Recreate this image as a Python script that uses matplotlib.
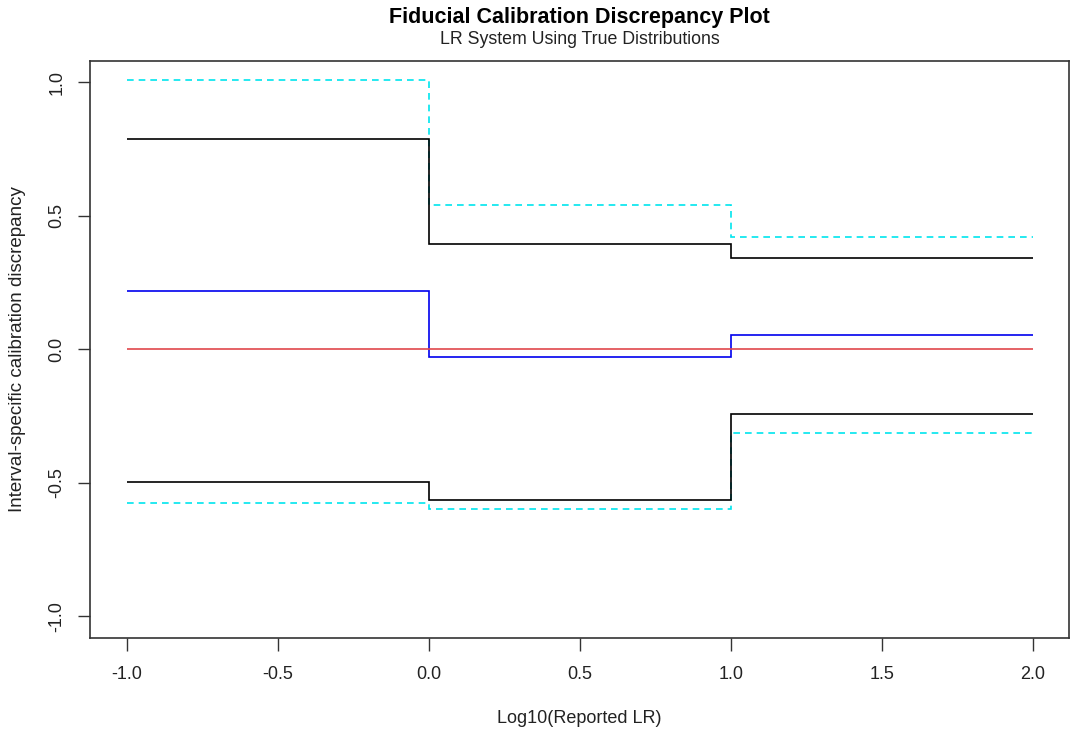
import matplotlib
matplotlib.use("Agg")
import matplotlib.pyplot as plt
import numpy as np

plt.rcParams['font.family'] = ['Liberation Sans', 'DejaVu Sans']

# Interval edges (log10 reported LR)
edges = [-1.0, 0.0, 1.0, 2.0]
# Interval-specific values
point_estimate = [0.216, -0.030, 0.055]
upper_black = [0.788, 0.395, 0.343]
lower_black = [-0.497, -0.565, -0.244]
upper_cyan = [1.006, 0.541, 0.419]
lower_cyan = [-0.576, -0.600, -0.312]
reference = 0.0

title = "Fiducial Calibration Discrepancy Plot"
subtitle = "LR System Using True Distributions"
xlabel = "Log10(Reported LR)"
ylabel = "Interval-specific calibration discrepancy"
xticks = [-1.0, -0.5, 0.0, 0.5, 1.0, 1.5, 2.0]
yticks = [-1.0, -0.5, 0.0, 0.5, 1.0]

fig = plt.figure(figsize=(10.71, 7.31), dpi=100)
ax = fig.add_axes([0.0845, 0.1276, 0.9135, 0.7894])

lw = 1.2
ax.hlines(reference, edges[0], edges[-1], colors='#E0474C', lw=lw)
ax.stairs(upper_cyan, edges, baseline=None, color='#00E5EE', lw=lw, linestyle=(0, (4, 3)))
ax.stairs(lower_cyan, edges, baseline=None, color='#00E5EE', lw=lw, linestyle=(0, (4, 3)))
ax.stairs(upper_black, edges, baseline=None, color='black', lw=lw)
ax.stairs(lower_black, edges, baseline=None, color='black', lw=lw)
ax.stairs(point_estimate, edges, baseline=None, color='#0000EE', lw=lw)

ax.set_xlim(-1.12, 2.12)
ax.set_ylim(-1.08, 1.08)
ax.set_xticks(xticks)
ax.set_xticklabels([f"{t:.1f}" for t in xticks])
ax.set_yticks(yticks)
ax.set_yticklabels([f"{t:.1f}" for t in yticks], rotation=90, va='center')
ax.tick_params(direction='out', length=9, width=1, labelsize=13, pad=11, colors='#333333')
ax.tick_params(axis='x', labelcolor='#222222')
ax.tick_params(axis='y', labelcolor='#222222', pad=9)
for s in ax.spines.values():
    s.set_linewidth(1.2)
    s.set_color('#333333')

ax.set_xlabel(xlabel, fontsize=13, labelpad=20, color='#222222')
ax.set_ylabel(ylabel, fontsize=13.5, labelpad=16, color='#222222')

cx = (0.0845 + 0.0845 + 0.9135) / 2
fig.text(cx, 1 - 17/731, title, ha='center', va='center', fontsize=15.5, fontweight='bold')
fig.text(cx, 1 - 40/731, subtitle, ha='center', va='center', fontsize=12.8, color='#222222')

fig.savefig("out.png", dpi=100)
